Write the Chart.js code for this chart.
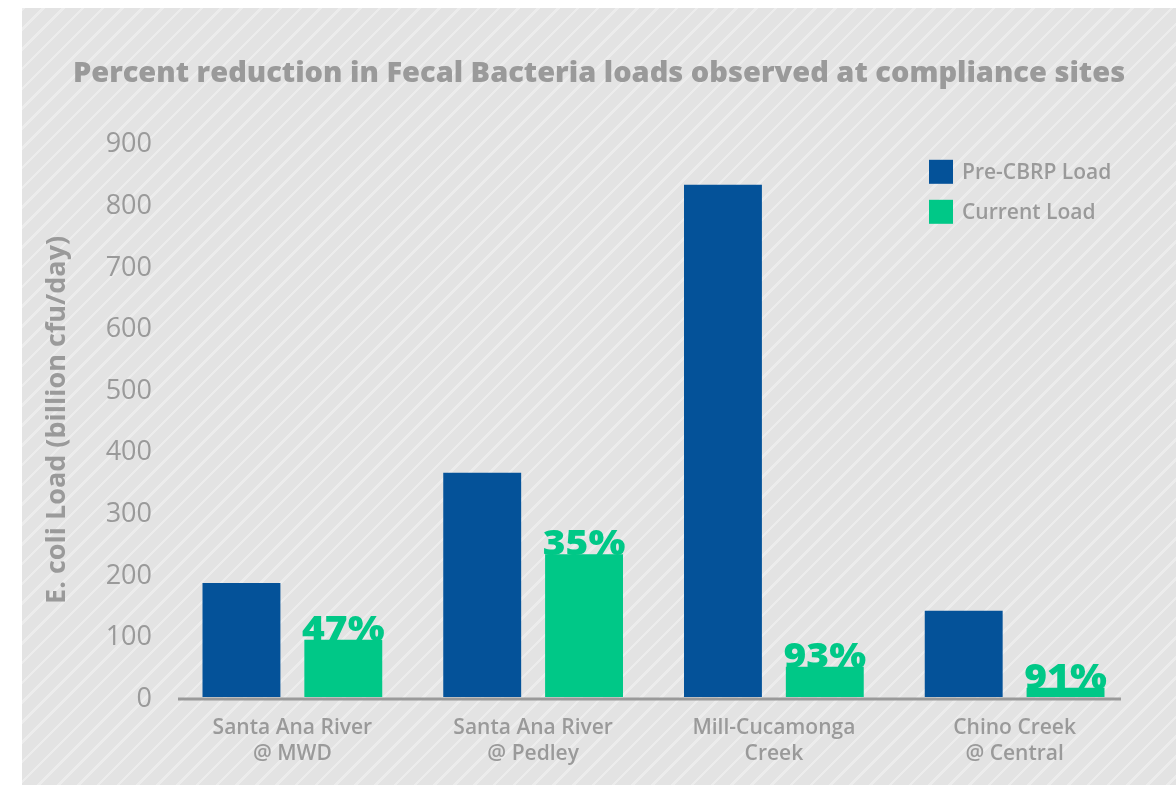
<!DOCTYPE html>
<html><head><meta charset="utf-8">
<script src="https://cdn.jsdelivr.net/npm/chart.js@4.4.1/dist/chart.umd.min.js"></script>
<style>
html,body{margin:0;padding:0;background:#fff;width:1176px;height:785px;overflow:hidden;}
#wrap{position:absolute;left:22px;top:8px;width:1154px;height:777px;
background-color:#e3e3e3;
background-image:repeating-linear-gradient(135deg,#ececec 0px,#ececec 2.5px,#e3e3e3 2.5px,#e3e3e3 14px);}
canvas{display:block;}
</style></head>
<body>
<div id="wrap"><canvas id="c" width="1154" height="777"></canvas></div>
<script>
const categories = [["Santa Ana River","@ MWD"],["Santa Ana River","@ Pedley"],["Mill-Cucamonga","Creek"],["Chino Creek","@ Central"]];
const seriesNames = ["Pre-CBRP Load","Current Load"];
const preLoad = [185, 364, 832, 140];
const currentLoad = [93, 232, 49, 15];
const reductionLabels = ["47%","35%","93%","91%"];
const yMin = 0, yMax = 900, yStep = 100;
const chartTitle = "Percent reduction in Fecal Bacteria loads observed at compliance sites";
const yTitle = "E. coli Load (billion cfu/day)";

const BLUE = "#045299", GREEN = "#00c887", GRAY = "#9a9a9a";

const percentPlugin = {
  id: 'percentLabels',
  afterDatasetsDraw(chart) {
    const ctx = chart.ctx;
    const meta = chart.getDatasetMeta(1);
    ctx.save();
    ctx.font = "800 36px 'Open Sans'";
    ctx.fillStyle = GREEN;
    ctx.textAlign = 'center';
    ctx.textBaseline = 'alphabetic';
    meta.data.forEach((el, i) => {
      ctx.save();
      ctx.translate(el.x, el.y + 1);
      ctx.scale(1.08, 1);
      ctx.fillText(reductionLabels[i], 0, 0);
      ctx.restore();
    });
    ctx.restore();
  }
};

const axisLinePlugin = {
  id: 'axisLine',
  beforeDatasetsDraw(chart) {
    const ctx = chart.ctx;
    const y0 = chart.scales.y.getPixelForValue(0) + 2;
    ctx.save();
    ctx.strokeStyle = GRAY;
    ctx.lineWidth = 3;
    ctx.beginPath();
    ctx.moveTo(chart.chartArea.left + 6, y0);
    ctx.lineTo(chart.chartArea.right - 14, y0);
    ctx.stroke();
    ctx.restore();
  }
};

const legendPlugin = {
  id: 'insideLegend',
  afterDraw(chart) {
    const ctx = chart.ctx;
    const x0 = chart.chartArea.right - 206;
    const y0 = chart.chartArea.top + 17;
    ctx.save();
    ctx.font = "600 21px 'Open Sans'";
    ctx.textBaseline = 'middle';
    ctx.textAlign = 'left';
    chart.data.datasets.forEach((ds, i) => {
      const y = y0 + i * 40;
      ctx.fillStyle = ds.backgroundColor;
      ctx.fillRect(x0, y, 24, 24);
      ctx.fillStyle = GRAY;
      ctx.fillText(ds.label, x0 + 33, y + 13);
    });
    ctx.restore();
  }
};

new Chart(document.getElementById('c'), {
  type: 'bar',
  data: {
    labels: categories,
    datasets: [
      {label: seriesNames[0], data: preLoad, backgroundColor: BLUE},
      {label: seriesNames[1], data: currentLoad, backgroundColor: GREEN}
    ]
  },
  options: {
    responsive: false,
    animation: false,
    events: [],
    categoryPercentage: 0.846,
    barPercentage: 0.765,
    layout: {padding: {left: 0, right: 0, top: 0, bottom: 0}},
    plugins: {
      legend: {display: false},
      tooltip: {enabled: false},
      title: {
        display: true,
        text: chartTitle,
        color: GRAY,
        font: {family: "'Open Sans'", size: 29, weight: '800', lineHeight: 1.2},
        padding: {top: 48, bottom: 52}
      }
    },
    scales: {
      x: {
        grid: {display: false, drawTicks: false},
        border: {display: false},
        ticks: {color: GRAY, padding: 18, font: {family: "'Open Sans'", size: 21, weight: '600', lineHeight: 1.25}},
        afterFit(s) { s.height = 88; }
      },
      y: {
        min: yMin, max: yMax,
        grid: {display: false, drawTicks: false},
        border: {display: false},
        ticks: {stepSize: yStep, color: GRAY, padding: 20, labelOffset: 2, font: {family: "'Open Sans'", size: 27, weight: '400'}},
        title: {display: true, text: yTitle, color: GRAY, padding: {top: 19, bottom: 0},
          font: {family: "'Open Sans'", size: 27, weight: '700', lineHeight: 1.2}},
        afterFit(s) { s.width = 150; }
      },
      yRight: {
        position: 'right',
        min: yMin, max: yMax,
        grid: {display: false, drawTicks: false},
        border: {display: false},
        ticks: {display: false},
        afterFit(s) { s.width = 41; }
      }
    }
  },
  plugins: [axisLinePlugin, percentPlugin, legendPlugin]
});
</script>
</body></html>
